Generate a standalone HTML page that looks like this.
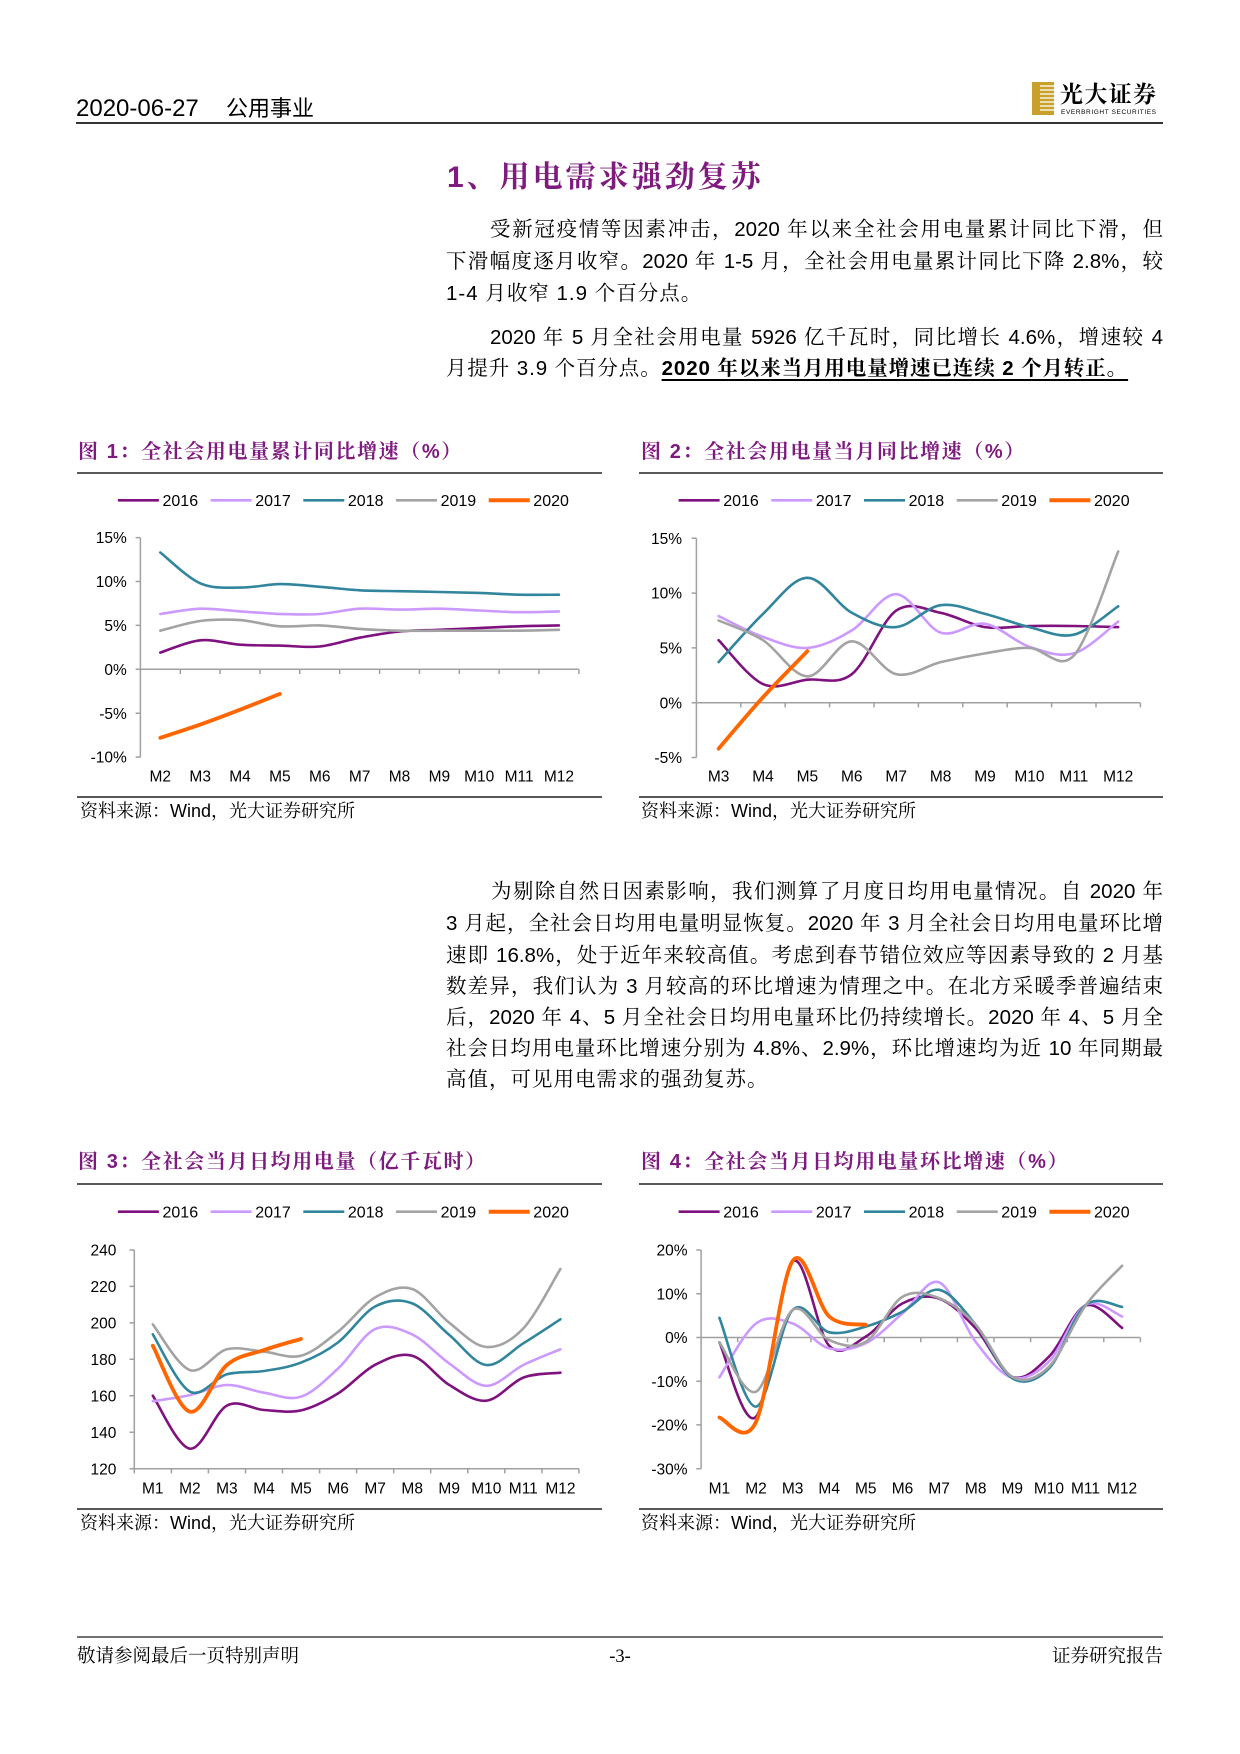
<!DOCTYPE html>
<html><head><meta charset="utf-8">
<style>
html,body{margin:0;padding:0;background:#fff;}
#pg{position:relative;width:1240px;height:1754px;overflow:hidden;background:#fff;font-family:"Liberation Sans","Noto Serif CJK SC",serif;color:#000;}
.a{position:absolute;white-space:nowrap;}
.ln{position:absolute;height:30px;line-height:30px;font-size:20.5px;font-family:"Liberation Sans","Noto Serif CJK SC",serif;}
.j{text-align:justify;text-align-last:justify;}
.ft{font-family:"Liberation Sans","Noto Serif CJK SC",serif;font-weight:bold;color:#7f1a7f;font-size:20px;letter-spacing:1.6px;height:26px;line-height:26px;}
.src{font-size:18px;height:24px;line-height:24px;font-family:"Liberation Sans","Noto Serif CJK SC",serif;}
</style></head><body>
<div id="pg">
<svg id="cv" width="1240" height="1754" style="position:absolute;left:0;top:0" xmlns="http://www.w3.org/2000/svg">
<!-- header -->
<line x1="76" y1="123" x2="1163" y2="123" stroke="#333" stroke-width="2"/>
<rect x="1032" y="82" width="22" height="33" fill="#c9a02a"/>
<g stroke="#fff" stroke-width="1.3">
<line x1="1040" y1="86" x2="1054" y2="86"/><line x1="1040" y1="90" x2="1054" y2="90"/>
<line x1="1040" y1="94" x2="1054" y2="94"/><line x1="1040" y1="98" x2="1054" y2="98"/>
<line x1="1040" y1="102" x2="1054" y2="102"/><line x1="1040" y1="106" x2="1054" y2="106"/>
<line x1="1040" y1="110" x2="1054" y2="110"/>
</g>
<text x="1060" y="102" font-family="Noto Serif CJK SC, serif" font-weight="bold" font-size="23" textLength="96">光大证券</text>
<text x="1061" y="114" font-family="Liberation Sans, sans-serif" font-size="6.5" textLength="95">EVERBRIGHT SECURITIES</text>

<!-- figure rules -->
<g stroke="#222" stroke-width="1.5">
<line x1="77" y1="473" x2="602" y2="473"/><line x1="639" y1="473" x2="1163" y2="473"/>
<line x1="77" y1="797" x2="602" y2="797"/><line x1="639" y1="797" x2="1163" y2="797"/>
<line x1="77" y1="1184" x2="602" y2="1184"/><line x1="639" y1="1184" x2="1163" y2="1184"/>
<line x1="77" y1="1509" x2="602" y2="1509"/><line x1="639" y1="1509" x2="1163" y2="1509"/>
<line x1="77" y1="1637" x2="1163" y2="1637" stroke="#444"/>
</g>

<!-- axes -->
<g stroke="#a0a0a0" stroke-width="1.5" fill="none">
<path d="M140.4,537.6V757.1M135.6,537.6H140.4M135.6,581.5H140.4M135.6,625.4H140.4M135.6,669.3H140.4M135.6,713.2H140.4M135.6,757.1H140.4M140.4,669.3H578.9M180.3,669.3V674M220.1,669.3V674M260,669.3V674M299.8,669.3V674M339.7,669.3V674M379.6,669.3V674M419.4,669.3V674M459.3,669.3V674M499.1,669.3V674M539,669.3V674M578.9,669.3V674"/>
<path d="M696.4,538.3V757.5M691.6,538.3H696.4M691.6,593.1H696.4M691.6,647.9H696.4M691.6,702.7H696.4M691.6,757.5H696.4M696.4,702.7H1140.4M740.8,702.7V707.4M785.2,702.7V707.4M829.6,702.7V707.4M874,702.7V707.4M918.4,702.7V707.4M962.8,702.7V707.4M1007.2,702.7V707.4M1051.6,702.7V707.4M1096,702.7V707.4M1140.4,702.7V707.4"/>
<path d="M134.3,1250V1468.7M129.5,1250H134.3M129.5,1286.4H134.3M129.5,1322.9H134.3M129.5,1359.3H134.3M129.5,1395.8H134.3M129.5,1432.2H134.3M129.5,1468.7H134.3M134.3,1468.7H578.9M134.3,1468.7V1473.4M171.4,1468.7V1473.4M208.4,1468.7V1473.4M245.5,1468.7V1473.4M282.5,1468.7V1473.4M319.6,1468.7V1473.4M356.6,1468.7V1473.4M393.7,1468.7V1473.4M430.7,1468.7V1473.4M467.8,1468.7V1473.4M504.8,1468.7V1473.4M541.9,1468.7V1473.4M578.9,1468.7V1473.4"/>
<path d="M701.1,1250V1468.7M696.3,1250H701.1M696.3,1293.7H701.1M696.3,1337.5H701.1M696.3,1381.2H701.1M696.3,1424.9H701.1M696.3,1468.7H701.1M701.1,1337.5H1140.4M737.7,1337.5V1342.2M774.3,1337.5V1342.2M810.9,1337.5V1342.2M847.5,1337.5V1342.2M884.2,1337.5V1342.2M920.8,1337.5V1342.2M957.4,1337.5V1342.2M994,1337.5V1342.2M1030.6,1337.5V1342.2M1067.2,1337.5V1342.2M1103.8,1337.5V1342.2M1140.4,1337.5V1342.2"/>
</g>

<g font-family="Liberation Sans, Arial, sans-serif" font-size="15.5" fill="#000">
<g text-anchor="end">
<text x="126.8" y="543.2">15%</text><text x="126.8" y="587.1">10%</text><text x="126.8" y="631">5%</text><text x="126.8" y="674.9">0%</text><text x="126.8" y="718.8">-5%</text><text x="126.8" y="762.7">-10%</text>
<text x="682" y="543.9">15%</text><text x="682" y="598.7">10%</text><text x="682" y="653.5">5%</text><text x="682" y="708.3">0%</text><text x="682" y="763.1">-5%</text>
<text x="116.4" y="1255.6">240</text><text x="116.4" y="1292">220</text><text x="116.4" y="1328.5">200</text><text x="116.4" y="1364.9">180</text><text x="116.4" y="1401.4">160</text><text x="116.4" y="1437.8">140</text><text x="116.4" y="1474.3">120</text>
<text x="687.5" y="1255.6">20%</text><text x="687.5" y="1299.3">10%</text><text x="687.5" y="1343.1">0%</text><text x="687.5" y="1386.8">-10%</text><text x="687.5" y="1430.5">-20%</text><text x="687.5" y="1474.3">-30%</text>
</g>
<g text-anchor="middle">
<text x="160.3" y="781.6">M2</text><text x="200.2" y="781.6">M3</text><text x="240" y="781.6">M4</text><text x="279.9" y="781.6">M5</text><text x="319.8" y="781.6">M6</text><text x="359.6" y="781.6">M7</text><text x="399.5" y="781.6">M8</text><text x="439.4" y="781.6">M9</text><text x="479.2" y="781.6">M10</text><text x="519.1" y="781.6">M11</text><text x="558.9" y="781.6">M12</text>
<text x="718.6" y="781.6">M3</text><text x="763" y="781.6">M4</text><text x="807.4" y="781.6">M5</text><text x="851.8" y="781.6">M6</text><text x="896.2" y="781.6">M7</text><text x="940.6" y="781.6">M8</text><text x="985" y="781.6">M9</text><text x="1029.4" y="781.6">M10</text><text x="1073.8" y="781.6">M11</text><text x="1118.2" y="781.6">M12</text>
<text x="152.8" y="1493.6">M1</text><text x="189.9" y="1493.6">M2</text><text x="226.9" y="1493.6">M3</text><text x="264" y="1493.6">M4</text><text x="301" y="1493.6">M5</text><text x="338.1" y="1493.6">M6</text><text x="375.1" y="1493.6">M7</text><text x="412.2" y="1493.6">M8</text><text x="449.2" y="1493.6">M9</text><text x="486.3" y="1493.6">M10</text><text x="523.3" y="1493.6">M11</text><text x="560.4" y="1493.6">M12</text>
<text x="719.4" y="1493.6">M1</text><text x="756" y="1493.6">M2</text><text x="792.6" y="1493.6">M3</text><text x="829.2" y="1493.6">M4</text><text x="865.8" y="1493.6">M5</text><text x="902.5" y="1493.6">M6</text><text x="939.1" y="1493.6">M7</text><text x="975.7" y="1493.6">M8</text><text x="1012.3" y="1493.6">M9</text><text x="1048.9" y="1493.6">M10</text><text x="1085.5" y="1493.6">M11</text><text x="1122.1" y="1493.6">M12</text>
</g>
<g font-size="16">
<text x="162.5" y="506">2016</text><text x="255.2" y="506">2017</text><text x="347.9" y="506">2018</text><text x="440.6" y="506">2019</text><text x="533.3" y="506">2020</text>
<text x="723.2" y="506">2016</text><text x="815.9" y="506">2017</text><text x="908.6" y="506">2018</text><text x="1001.3" y="506">2019</text><text x="1094" y="506">2020</text>
<text x="162.5" y="1217.4">2016</text><text x="255.2" y="1217.4">2017</text><text x="347.9" y="1217.4">2018</text><text x="440.6" y="1217.4">2019</text><text x="533.3" y="1217.4">2020</text>
<text x="723.2" y="1217.4">2016</text><text x="815.9" y="1217.4">2017</text><text x="908.6" y="1217.4">2018</text><text x="1001.3" y="1217.4">2019</text><text x="1094" y="1217.4">2020</text>
</g>
</g>
<g id="leg"></g>
<g id="series" fill="none" stroke-linejoin="round" stroke-linecap="round"></g>
</svg>

<!-- header text -->
<div class="a" style="left:76px;top:95px;font-size:24px;line-height:28px;font-family:'Liberation Sans',sans-serif;">2020-06-27</div>
<div class="a" style="left:226px;top:95px;font-size:22px;line-height:28px;font-family:'Liberation Sans','Noto Sans CJK SC',sans-serif;">公用事业</div>

<!-- main title -->
<div class="a" style="left:447px;top:159px;font-size:30px;line-height:38px;font-weight:bold;color:#7f1a7f;letter-spacing:3px;font-family:'Liberation Sans','Noto Serif CJK SC',serif;">1、用电需求强劲复苏</div>

<!-- para 1 -->
<div class="ln j" style="left:490px;width:673px;top:215px;">受新冠疫情等因素冲击，2020 年以来全社会用电量累计同比下滑，但</div>
<div class="ln j" style="left:446px;width:717px;top:247px;">下滑幅度逐月收窄。2020 年 1-5 月，全社会用电量累计同比下降 2.8%，较</div>
<div class="ln" style="left:446px;top:279px;letter-spacing:1px;white-space:nowrap;">1-4 月收窄 1.9 个百分点。</div>
<div class="ln j" style="left:490px;width:673px;top:323px;">2020 年 5 月全社会用电量 5926 亿千瓦时，同比增长 4.6%，增速较 4</div>
<div class="ln" style="left:446px;top:354px;letter-spacing:0.9px;white-space:nowrap;">月提升 3.9 个百分点。<b style="text-decoration:underline;text-decoration-thickness:2px;text-underline-offset:4px;">2020 年以来当月用电量增速已连续 2 个月转正。</b></div>

<!-- figure titles -->
<div class="a ft" style="left:78px;top:439px;">图 1：全社会用电量累计同比增速（%）</div>
<div class="a ft" style="left:641px;top:439px;">图 2：全社会用电量当月同比增速（%）</div>
<div class="a ft" style="left:78px;top:1149px;">图 3：全社会当月日均用电量（亿千瓦时）</div>
<div class="a ft" style="left:641px;top:1149px;">图 4：全社会当月日均用电量环比增速（%）</div>

<!-- sources -->
<div class="a src" style="left:80px;top:799px;">资料来源：Wind，光大证券研究所</div>
<div class="a src" style="left:641px;top:799px;">资料来源：Wind，光大证券研究所</div>
<div class="a src" style="left:80px;top:1511px;">资料来源：Wind，光大证券研究所</div>
<div class="a src" style="left:641px;top:1511px;">资料来源：Wind，光大证券研究所</div>

<!-- para 3 -->
<div class="ln j" style="left:491px;width:672px;top:877px;">为剔除自然日因素影响，我们测算了月度日均用电量情况。自 2020 年</div>
<div class="ln j" style="left:446px;width:717px;top:909px;">3 月起，全社会日均用电量明显恢复。2020 年 3 月全社会日均用电量环比增</div>
<div class="ln j" style="left:446px;width:717px;top:941px;">速即 16.8%，处于近年来较高值。考虑到春节错位效应等因素导致的 2 月基</div>
<div class="ln j" style="left:446px;width:717px;top:972px;">数差异，我们认为 3 月较高的环比增速为情理之中。在北方采暖季普遍结束</div>
<div class="ln j" style="left:446px;width:717px;top:1003px;">后，2020 年 4、5 月全社会日均用电量环比仍持续增长。2020 年 4、5 月全</div>
<div class="ln j" style="left:446px;width:717px;top:1034px;">社会日均用电量环比增速分别为 4.8%、2.9%，环比增速均为近 10 年同期最</div>
<div class="ln" style="left:446px;top:1065px;letter-spacing:1px;white-space:nowrap;">高值，可见用电需求的强劲复苏。</div>

<!-- footer -->
<div class="a" style="left:77px;top:1645px;font-size:18.5px;line-height:24px;font-family:'Liberation Serif','Noto Serif CJK SC',serif;">敬请参阅最后一页特别声明</div>
<div class="a" style="left:605px;top:1645px;width:30px;text-align:center;font-size:18.5px;line-height:24px;font-family:'Liberation Serif',serif;">-3-</div>
<div class="a" style="left:1052px;top:1645px;font-size:18.5px;line-height:24px;font-family:'Liberation Serif','Noto Serif CJK SC',serif;">证券研究报告</div>
</div>

<script>
(function(){
var NS='http://www.w3.org/2000/svg';
var C=['#7f127f','#cc99ff','#31859c','#a3a3a3','#ff6600'];
var W=[2.6,2.6,2.6,2.6,3.8];
function f(v){return v.toFixed(1);}
function pth(p){
 var d='M'+f(p[0][0])+','+f(p[0][1]);
 for(var i=0;i<p.length-1;i++){
  var p0=p[i-1]||p[i],p1=p[i],p2=p[i+1],p3=p[i+2]||p[i+1];
  var c1x=p1[0]+(p2[0]-p0[0])/6,c1y=p1[1]+(p2[1]-p0[1])/6;
  var c2x=p2[0]-(p3[0]-p1[0])/6,c2y=p2[1]-(p3[1]-p1[1])/6;
  d+=' C'+f(c1x)+','+f(c1y)+' '+f(c2x)+','+f(c2y)+' '+f(p2[0])+','+f(p2[1]);
 }
 return d;
}
var charts=[
 {x0:140.4,w:39.86,y:function(v){return 669.3-v*8.78;},s:[
  [1.9,3.3,2.8,2.7,2.6,3.6,4.3,4.5,4.7,4.9,5.0],
  [6.3,6.9,6.6,6.3,6.3,6.9,6.8,6.9,6.7,6.5,6.6],
  [13.3,9.8,9.3,9.7,9.4,9.0,8.9,8.8,8.7,8.5,8.5],
  [4.4,5.5,5.6,4.9,5.0,4.6,4.4,4.4,4.4,4.4,4.5],
  [-7.8,-6.3,-4.6,-2.8]]},
 {x0:696.4,w:44.4,y:function(v){return 702.7-v*10.96;},s:[
  [5.7,1.7,2.1,2.6,8.4,8.2,6.9,7.0,7.0,6.9],
  [7.9,6.0,5.0,6.6,9.9,6.4,7.2,5.1,4.5,7.4],
  [3.7,8.1,11.4,8.2,6.9,8.9,8.1,6.9,6.2,8.8],
  [7.5,5.7,2.4,5.6,2.6,3.7,4.5,5.0,4.3,13.8],
  [-4.2,0.5,4.7]]},
 {x0:134.3,w:37.05,y:function(v){return 1250+(240-v)*1.8225;},s:[
  [160,131,154.6,152.2,152,161.3,177,182,166,157.3,170,172.7],
  [157,160.4,165.9,161.7,159.5,175,196.6,193.7,177.8,165.5,176.9,185.5],
  [193.7,162.3,171.8,173.6,178.2,189.3,209,210.7,193.4,176.9,188.8,202],
  [199.2,174.1,185.5,184.2,182,195.2,214,218.6,200.1,186.8,197,229.6],
  [187.5,151.3,176.9,185.1,191.2]]},
 {x0:701.1,w:36.61,y:function(v){return 1337.5-v*4.373;},s:[
  [-1.1,-18.1,17.3,-1.9,0.2,7.8,8.9,2.1,-9.0,-4.4,7.3,2.2],
  [-9.1,3.2,3.2,-2.5,-1.3,5.5,12.6,-1.0,-9.2,-5.5,7.4,4.8],
  [4.5,-15.8,6.3,1.2,2.5,5.9,10.9,2.9,-9.3,-7.1,7.4,7.0],
  [-1.1,-12.4,6.3,-0.6,-1.0,9.3,9.0,2.9,-9.0,-6.7,7.3,16.4],
  [-18.3,-19.3,17.5,4.8,2.9]]}
];
var g=document.getElementById('series');
charts.forEach(function(ch){
 ch.s.forEach(function(arr,k){
  var pts=arr.map(function(v,i){return [ch.x0+(i+0.5)*ch.w, ch.y(v)];});
  var p=document.createElementNS(NS,'path');
  p.setAttribute('d',pth(pts));
  p.setAttribute('stroke',C[k]);
  p.setAttribute('stroke-width',W[k]);
  g.appendChild(p);
 });
});
var lg=document.getElementById('leg');
[[117.9,500.3],[678.6,500.3],[117.9,1211.7],[678.6,1211.7]].forEach(function(L){
 for(var k=0;k<5;k++){
  var l=document.createElementNS(NS,'line');
  var x=L[0]+k*92.7;
  l.setAttribute('x1',x);l.setAttribute('x2',x+41);
  l.setAttribute('y1',L[1]);l.setAttribute('y2',L[1]);
  l.setAttribute('stroke',C[k]);l.setAttribute('stroke-width',k==4?4:2.6);
  lg.appendChild(l);
 }
});
})();
</script>
</body></html>
